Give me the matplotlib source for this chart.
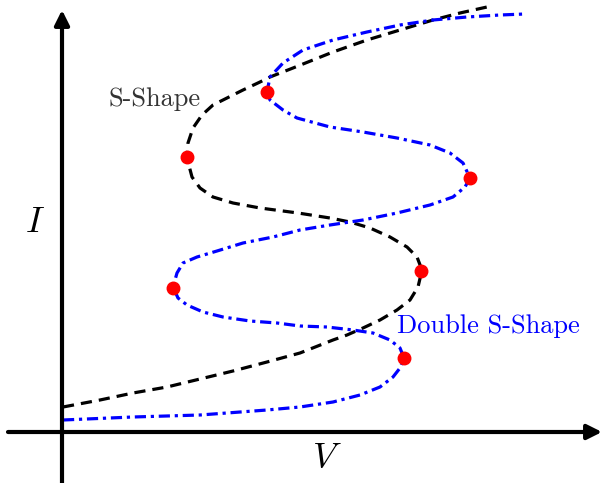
import numpy as np
import matplotlib
matplotlib.use('Agg')
import matplotlib.pyplot as plt

plt.rcParams['mathtext.fontset'] = 'cm'

# points (V, I), origin at the axes crossing
s_V = [1, 38, 71, 105, 138, 171, 205, 238, 271, 285, 301, 318, 335, 348, 356, 360,
       355, 345, 328, 308, 288, 268, 236, 198, 171, 151, 138, 130, 125,
       126, 131, 140, 151, 165, 181, 198, 208, 231, 271, 305, 338, 371, 398, 425]
s_I = [25, 32, 39, 45, 53, 61, 70, 79, 92, 97, 104, 112, 122, 132, 145, 162,
       175, 185, 195, 204, 210, 214, 219, 224, 229, 235, 244, 255, 274,
       289, 304, 317, 327, 334, 342, 350, 355, 364, 380, 392, 402, 412, 419, 425]

ds_V = [1, 71, 138, 205, 238, 271, 298, 318, 331, 338, 342, 338, 328, 311, 291,
        265, 238, 215, 188, 161, 141, 125, 116, 111, 115, 121, 135, 155, 181, 211,
        238, 268, 301, 335, 368, 391, 403, 408, 401, 388, 368, 335, 301, 268,
        235, 221, 208, 205, 208, 221, 241, 271, 305, 338, 371, 405, 438, 463]
ds_I = [12, 15, 17, 22, 25, 30, 37, 45, 55, 64, 74, 84, 92, 99, 102,
        105, 106, 109, 111, 115, 120, 127, 134, 145, 159, 169, 175, 181, 189, 195,
        202, 207, 212, 219, 227, 235, 245, 254, 269, 279, 287, 294, 300, 305,
        314, 322, 332, 340, 355, 369, 382, 392, 400, 407, 412, 415, 417, 418]

turn_V = [125, 205, 408, 359, 111, 342]
turn_I = [275, 340, 254, 161, 144, 74]

fig = plt.figure(figsize=(6.02, 4.83), dpi=100)
ax = fig.add_axes([0, 0, 1, 1])
ax.set_xlim(-62, 540)
ax.set_ylim(-51, 432)
ax.axis('off')

# axes with arrow heads
ax.annotate('', xy=(0, 422), xytext=(0, -51),
            arrowprops=dict(arrowstyle='-|>', lw=3, color='k', mutation_scale=22, shrinkA=0, shrinkB=0))
ax.annotate('', xy=(540, 0), xytext=(-54, 0),
            arrowprops=dict(arrowstyle='-|>', lw=3, color='k', mutation_scale=22, shrinkA=0, shrinkB=0))

ax.plot(s_V, s_I, color='k', lw=2.3, ls=(0, (3.5, 2.2)), solid_joinstyle='round', dash_joinstyle='round')
ax.plot(ds_V, ds_I, color='blue', lw=2.3, ls=(0, (3.5, 1.5, 1.0, 1.5)), solid_joinstyle='round', dash_joinstyle='round')
ax.plot(turn_V, turn_I, 'o', color='red', markersize=9, zorder=5)

ax.text(93, 333, 'S-Shape', fontfamily='cmr10', fontsize=19, color='#333333', ha='center', va='center')
ax.text(426, 106, 'Double S-Shape', fontfamily='cmr10', fontsize=19, color='blue', ha='center', va='center')
ax.text(-27, 210, r'$I$', fontsize=26, ha='center', va='center')
ax.text(265, -26, r'$V$', fontsize=26, ha='center', va='center')

fig.savefig('out.png', dpi=100)
